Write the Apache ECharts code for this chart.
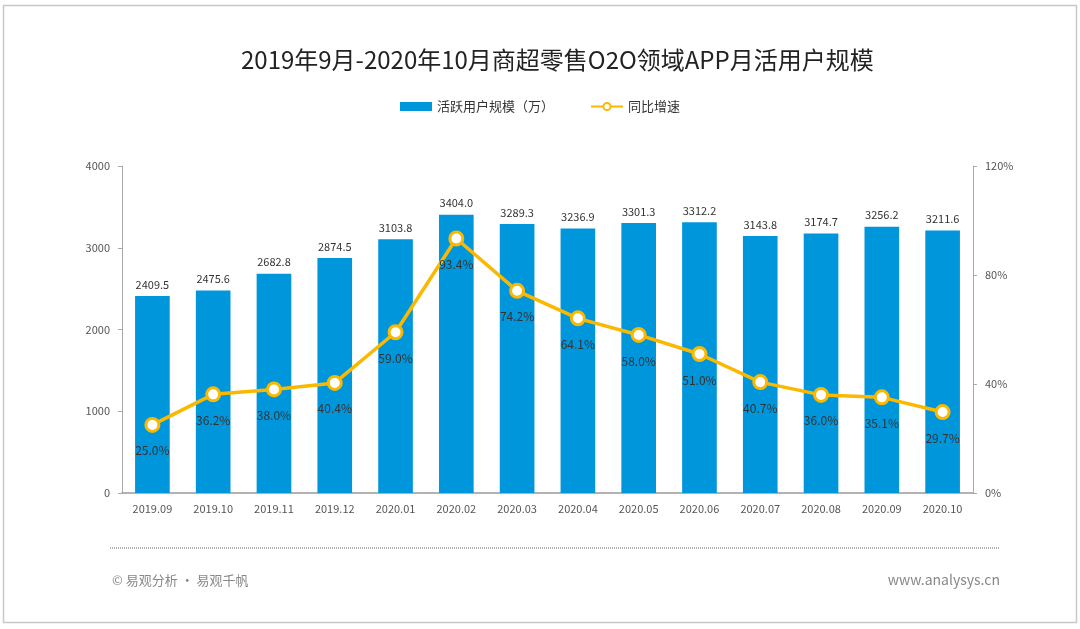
<!DOCTYPE html>
<html>
<head>
<meta charset="utf-8">
<script src="https://cdn.jsdelivr.net/npm/echarts@6/dist/echarts.min.js"></script>
<style>
html,body{margin:0;padding:0;background:#fff;}
#c{width:1080px;height:629px;}
</style>
</head>
<body>
<div id="c"></div>
<script>
var categories = ['2019.09','2019.10','2019.11','2019.12','2020.01','2020.02','2020.03','2020.04','2020.05','2020.06','2020.07','2020.08','2020.09','2020.10'];
var activeUsers = [2409.5,2475.6,2682.8,2874.5,3103.8,3404.0,3289.3,3236.9,3301.3,3312.2,3143.8,3174.7,3256.2,3211.6];
var yoyGrowth = [25.0,36.2,38.0,40.4,59.0,93.4,74.2,64.1,58.0,51.0,40.7,36.0,35.1,29.7];
var leftTicks = [0,1000,2000,3000,4000];
var rightTicks = [0,40,80,120];

var FONT = '"Noto Sans CJK SC","Noto Sans",sans-serif';
var chart = echarts.init(document.getElementById('c'));
chart.setOption({
  backgroundColor:'#fff',
  textStyle:{fontFamily:FONT},
  title:{
    text:'2019年9月-2020年10月商超零售O2O领域APP月活用户规模',
    left:236, top:43,
    textStyle:{fontSize:24,fontWeight:'normal',color:'#222',fontFamily:FONT}
  },
  legend:{
    top:95, left:'center', itemGap:36, itemWidth:32, itemHeight:9,
    textStyle:{fontSize:13,color:'#333',fontFamily:FONT},
    data:[{name:'活跃用户规模（万）',icon:'rect'},{name:'同比增速'}]
  },
  grid:{left:122,right:107,top:166,bottom:136},
  xAxis:{
    type:'category', data:categories,
    axisLine:{lineStyle:{color:'#999',width:1.5}},
    axisTick:{show:false},
    axisLabel:{color:'#555',fontSize:11,margin:10}
  },
  yAxis:[
    {type:'value',min:leftTicks[0],max:leftTicks[leftTicks.length-1],interval:1000,
     axisLine:{show:true,lineStyle:{color:'#aaa'}},
     axisTick:{show:true,length:4,lineStyle:{color:'#aaa'}},
     splitLine:{show:false},
     axisLabel:{color:'#555',fontSize:11,margin:12,formatter:function(v){return String(v);}}},
    {type:'value',min:rightTicks[0],max:rightTicks[rightTicks.length-1],interval:40,
     axisLine:{show:true,lineStyle:{color:'#aaa'}},
     axisTick:{show:true,length:4,lineStyle:{color:'#aaa'}},
     splitLine:{show:false},
     axisLabel:{color:'#555',fontSize:11,margin:12,formatter:'{value}%'}}
  ],
  series:[
    {name:'活跃用户规模（万）',type:'bar',data:activeUsers,barWidth:'57%',
     itemStyle:{color:'#0096DC'},
     label:{show:true,position:'top',distance:6,color:'#333',fontSize:11,
       formatter:function(p){return p.value.toFixed(1);}}},
    {name:'同比增速',type:'line',yAxisIndex:1,data:yoyGrowth,
     symbol:'circle',symbolSize:13,
     lineStyle:{color:'#FBB800',width:3.5},
     itemStyle:{color:'#fff',borderColor:'#FBB800',borderWidth:3},
     label:{show:true,position:'bottom',distance:12,color:'#333',fontSize:12,
       formatter:function(p){return p.value.toFixed(1)+'%';}}}
  ],
  graphic:[
    {type:'rect',shape:{x:3.5,y:5.5,width:1073,height:617},style:{fill:'none',stroke:'#c8c8c8',lineWidth:1.5},silent:true},
    {type:'line',shape:{x1:110,y1:548,x2:1000,y2:548},style:{stroke:'#999',lineWidth:1.5,lineDash:[1,1]},silent:true},
    {type:'text',left:112,top:574,style:{text:'© 易观分析 · 易观千帆',fill:'#888',fontSize:13,fontFamily:FONT}},
    {type:'text',right:80,top:573,style:{text:'www.analysys.cn',fill:'#888',fontSize:14,fontFamily:FONT}}
  ]
});
</script>
</body>
</html>
